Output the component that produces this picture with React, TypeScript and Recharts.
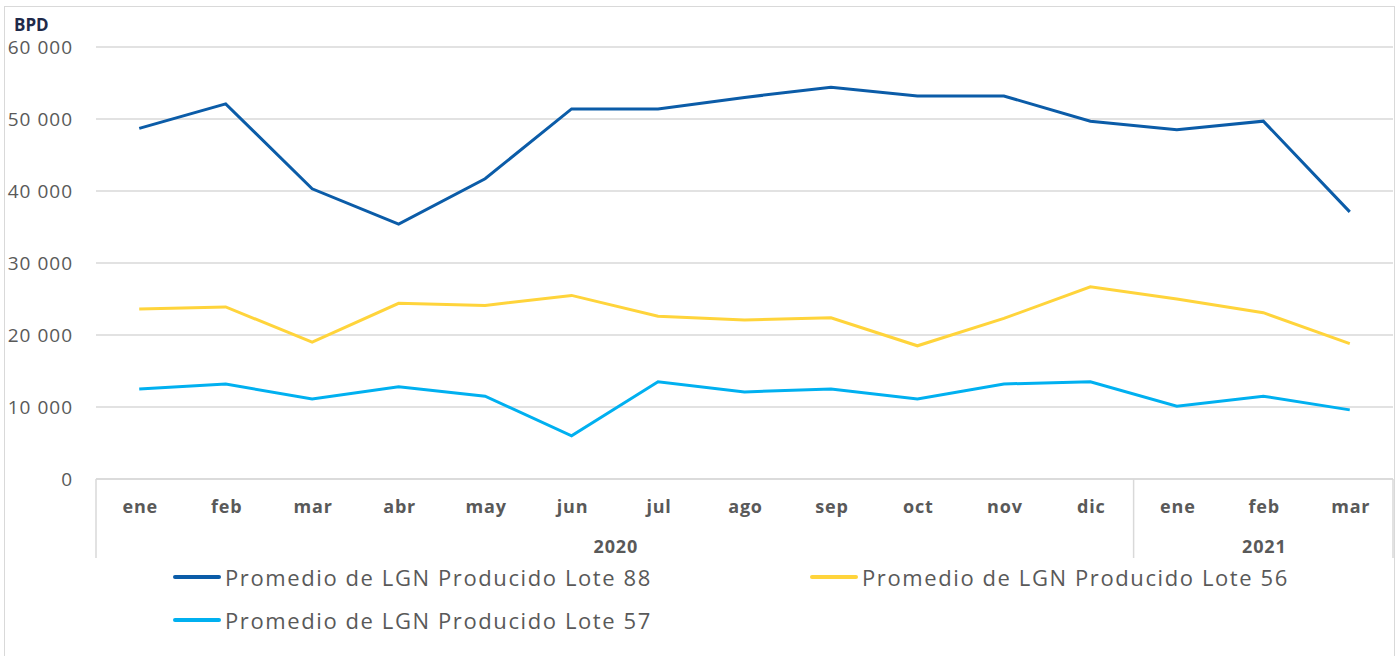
import React from 'react';
import { LineChart, Line, XAxis, YAxis, CartesianGrid, Legend } from 'recharts';

const months = ['ene', 'feb', 'mar', 'abr', 'may', 'jun', 'jul', 'ago', 'sep', 'oct', 'nov', 'dic', 'ene', 'feb', 'mar'];
const years = ['2020', '2020', '2020', '2020', '2020', '2020', '2020', '2020', '2020', '2020', '2020', '2020', '2021', '2021', '2021'];
const lote88 = [48700, 52100, 40300, 35400, 41700, 51400, 51400, 53000, 54400, 53200, 53200, 49700, 48500, 49700, 37100];
const lote56 = [23600, 23900, 19000, 24400, 24100, 25500, 22600, 22100, 22400, 18500, 22300, 26700, 25000, 23100, 18800];
const lote57 = [12500, 13200, 11100, 12800, 11500, 6000, 13500, 12100, 12500, 11100, 13200, 13500, 10100, 11500, 9600];
const yTicks = [0, 10000, 20000, 30000, 40000, 50000, 60000];

const seriesInfo = [
  { key: 'l88', name: 'Promedio de LGN Producido Lote 88', color: '#0b5ca8' },
  { key: 'l56', name: 'Promedio de LGN Producido Lote 56', color: '#ffd43b' },
  { key: 'l57', name: 'Promedio de LGN Producido Lote 57', color: '#00b0f0' },
];

const data = months.map((m, i) => ({
  key: `${m}-${years[i]}`,
  month: m,
  year: years[i],
  l88: lote88[i],
  l56: lote56[i],
  l57: lote57[i],
}));

const W = 1398;
const H = 656;
const X_H = 80;
const margin = { top: 47, right: 5, bottom: 177 - X_H, left: 0 };
const Y_W = 96;
const BAND = (W - margin.right - margin.left - Y_W) / months.length;
const TEXT = '#595959';
const GRID = '#d9d9d9';
const FONT = "'Open Sans', sans-serif";

const fmt = (v: number) => v.toLocaleString('en-US').replace(/,/g, ' ');

// month label + year group label + group separators, all in one tick
function MonthTick(props: any) {
  const { x, y, payload } = props;
  const i = payload.index;
  const half = BAND / 2;
  const first = i === 0 || years[i] !== years[i - 1];
  const last = i === years.length - 1;
  const count = years.filter((yr) => yr === years[i]).length;
  return (
    <g>
      <text x={x + 1} y={y + 34} textAnchor="middle" fill={TEXT} fontSize={18} fontWeight="bold" fontFamily={FONT} letterSpacing={0.8}>
        {months[i]}
      </text>
      {first && (
        <>
          <line x1={x - half} x2={x - half} y1={y} y2={y + 79} stroke={GRID} strokeWidth={1.5} />
          <text x={x - half + (count * BAND) / 2 + 1} y={y + 74} textAnchor="middle" fill={TEXT} fontSize={18} fontWeight="bold" fontFamily={FONT} letterSpacing={0.8}>
            {years[i]}
          </text>
        </>
      )}
      {last && <line x1={x + half} x2={x + half} y1={y} y2={y + 79} stroke={GRID} strokeWidth={1.5} />}
    </g>
  );
}

function LegendContent() {
  return (
    <div style={{ display: 'grid', gridTemplateColumns: '637px 600px', paddingLeft: 173, fontFamily: FONT }}>
      {seriesInfo.map((s) => (
        <div key={s.key} style={{ display: 'flex', alignItems: 'center', height: 43 }}>
          <span style={{ display: 'inline-block', width: 48, height: 4, background: s.color, borderRadius: 2, marginRight: 4 }} />
          <span style={{ fontSize: 22, color: TEXT, letterSpacing: 1.6 }}>{s.name}</span>
        </div>
      ))}
    </div>
  );
}

export default function App() {
  return (
    <div style={{ position: 'absolute', left: 0, top: 0, width: W, height: H, background: '#fff', overflow: 'hidden' }}>
      <div style={{ position: 'absolute', left: 4, top: 6, width: 1389, height: 700, border: `1px solid ${GRID}` }} />
      <div style={{ position: 'absolute', left: 14, top: 13, fontFamily: FONT, fontWeight: 'bold', fontSize: 17, color: '#1f2a4a' }}>
        BPD
      </div>
      <LineChart width={W} height={H} data={data} margin={margin}>
        <CartesianGrid vertical={false} stroke={GRID} strokeWidth={1.5} />
        <XAxis
          dataKey="key"
          interval={0}
          height={X_H}
          padding={{ left: BAND / 2, right: BAND / 2 }}
          tickSize={0}
          tickMargin={0}
          tickLine={false}
          axisLine={{ stroke: GRID, strokeWidth: 1.5 }}
          tick={<MonthTick />}
        />
        <YAxis
          width={Y_W}
          domain={[0, 60000]}
          ticks={yTicks}
          axisLine={false}
          tickLine={false}
          tickMargin={17}
          tickFormatter={fmt}
          tick={{ fill: TEXT, fontSize: 19, fontFamily: FONT, letterSpacing: 1 }}
        />
        <Legend
          layout="horizontal"
          verticalAlign="middle"
          align="center"
          wrapperStyle={{ top: 555, left: 0, width: W }}
          content={<LegendContent />}
        />
        {seriesInfo.map((s) => (
          <Line
            key={s.key}
            type="linear"
            dataKey={s.key}
            name={s.name}
            stroke={s.color}
            strokeWidth={3}
            dot={false}
            activeDot={false}
            isAnimationActive={false}
          />
        ))}
      </LineChart>
    </div>
  );
}
